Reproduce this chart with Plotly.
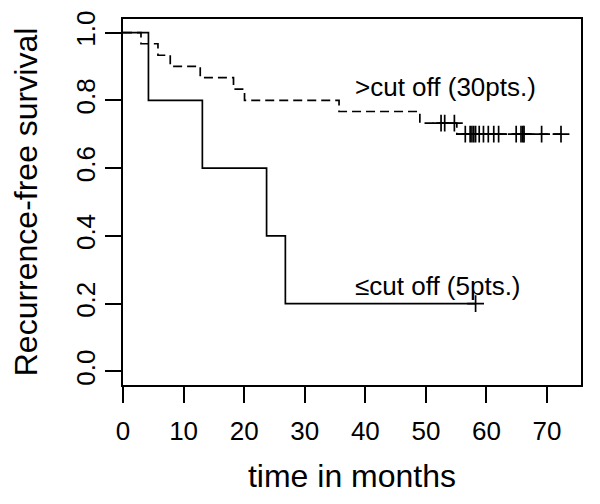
'''
Kaplan-Meier curves: recurrence-free survival by cut off group
'''
import plotly.graph_objects as go

# step curve for patients above the cut off (30 pts.)
high_times = [0, 2.97, 5.77, 7.8, 12.75, 18.24, 20.06, 35.66, 49.0, 55.1, 72.3]
high_surv = [1.0, 0.967, 0.933, 0.9, 0.867, 0.833, 0.8, 0.767, 0.733, 0.7, 0.7]
high_cens_times = [52.5, 53.1, 54.7,
                   56.5, 57.3, 57.6, 57.9, 58.2, 58.8, 59.5, 60.3, 61.2, 62.0,
                   64.9, 65.7, 66.0, 66.2, 69.1, 72.3]
high_cens_surv = [0.733, 0.733, 0.733] + [0.7] * 16

# step curve for patients at or below the cut off (5 pts.)
low_times = [0, 4.2, 13.1, 23.7, 26.8, 58.2]
low_surv = [1.0, 0.8, 0.6, 0.4, 0.2, 0.2]
low_cens_times = [58.2]
low_cens_surv = [0.2]

x_ticks = [0, 10, 20, 30, 40, 50, 60, 70]
y_ticks = [0.0, 0.2, 0.4, 0.6, 0.8, 1.0]
y_tick_labels = ['0.0', '0.2', '0.4', '0.6', '0.8', '1.0']

FONT = 'Liberation Sans, Arial, Helvetica, sans-serif'

fig = go.Figure()

fig.add_trace(go.Scatter(x=high_times, y=high_surv, mode='lines', line_shape='hv',
                         line=dict(color='black', width=1.7, dash='9px,5px')))
fig.add_trace(go.Scatter(x=high_cens_times, y=high_cens_surv, mode='markers',
                         marker=dict(symbol='cross-thin', size=12, color='black',
                                     line=dict(color='black', width=1.7))))
fig.add_trace(go.Scatter(x=low_times, y=low_surv, mode='lines', line_shape='hv',
                         line=dict(color='black', width=1.7)))
fig.add_trace(go.Scatter(x=low_cens_times, y=low_cens_surv, mode='markers',
                         marker=dict(symbol='cross-thin', size=12, color='black',
                                     line=dict(color='black', width=1.7))))

fig.add_annotation(x=37.9, y=0.84, text='>cut off (30pts.)', showarrow=False,
                   xanchor='left', yanchor='middle', font=dict(size=26, color='black'))
fig.add_annotation(x=38.0, y=0.251, text='≤cut off (5pts.)', showarrow=False,
                   xanchor='left', yanchor='middle', font=dict(size=26, color='black'))

# page body adds 8px around the figure, so margins are offset by that
fig.update_layout(
    width=600, height=504,
    margin=dict(l=115, r=27, t=11, b=127),
    paper_bgcolor='white', plot_bgcolor='white',
    showlegend=False,
    font=dict(family=FONT, size=26, color='black'),
    xaxis=dict(range=[0, 75.6], tickvals=x_ticks, ticks='outside', ticklen=16,
               tickwidth=1.7, tickcolor='black', showline=True, linecolor='black',
               linewidth=1.8, mirror=True, showgrid=False, zeroline=False,
               automargin=False, ticklabelstandoff=6,
               title=dict(text='time in months', font=dict(size=32), standoff=20)),
    yaxis=dict(range=[-0.04, 1.04], tickvals=y_ticks, ticktext=y_tick_labels,
               tickangle=-90, ticks='outside', ticklen=16, tickwidth=1.7,
               tickcolor='black', showline=True, linecolor='black', linewidth=1.8,
               mirror=True, showgrid=False, zeroline=False, automargin=False,
               title=dict(text='Recurrence-free survival', font=dict(size=32), standoff=30)),
)

fig.write_html('out.html')
